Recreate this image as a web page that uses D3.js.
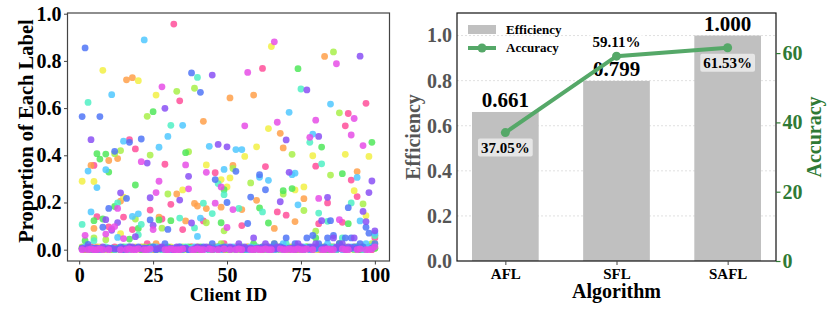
<!DOCTYPE html>
<html>
<head>
<meta charset="utf-8">
<script src="https://cdn.jsdelivr.net/npm/d3@7"></script>
<style>
  body { margin: 0; background: #fff; }
  svg text { font-family: "Liberation Serif", "Times New Roman", serif; font-weight: bold; }
</style>
</head>
<body>
<div id="chart"></div>
<script>
var FONT = "'Liberation Serif', 'Times New Roman', serif";

// ---- left panel: label proportion per client (10 labels) ----
var clients = d3.range(1, 101);
var clientTicks = [0, 25, 50, 75, 100];
var propTicks = [0, 0.2, 0.4, 0.6, 0.8, 1.0];
var labelColors = ["#ff4f9a", "#ffa04a", "#f2f044", "#a8f04a", "#50e85a", "#50f0c4", "#50c8ff", "#5075f7", "#8a50f5", "#e64ee6"];

var propRed = [.003,0,.006,.012,.357,.14,0,.006,.003,.097, 0,.012,.003,0,.138,.006,.466,.085,.427,.003,
  .006,0,.025,.168,0,.003,.012,.13,.362,0, .192,.956,.006,.631,.085,.003,0,.012,.006,.003,
  0,.122,.006,.003,0,.326,.012,0,.025,.006, 0,.003,.012,.006,.102,0,.003,.006,0,.012,
  .006,.768,.352,.003,0,.006,.16,.012,.003,.146, 0,.006,.003,0,.012,.006,.003,0,.006,.354,
  .11,.006,0,.198,.012,.003,0,.025,.116,.525, .577,.295,.006,.225,.003,.012,.62,.006,0,.05];
var propOrange = [.006,0,.003,.357,.09,.012,0,.003,.006,.378, 0,.006,.386,.206,.003,.72,0,.729,.006,.003,
  .012,0,.003,.006,0,.025,.138,.003,0,.006, .003,0,.236,.006,0,.122,.003,.012,.196,.185,
  .006,.544,.174,0,.003,.012,.006,.18,0,.003, .643,.357,.003,.006,.17,0,.012,.003,.655,.209,
  .003,0,.006,.012,0,.09,.003,.493,.431,.006, .003,.012,.119,0,.006,.216,.003,.006,0,.012,
  0,.003,.819,.006,.003,.012,0,.006,.003,0, .006,.003,.012,.331,0,.006,.003,.012,.006,.06];
var propYellow = [.29,.003,0,.006,.289,.003,.012,.76,0,.006, .003,0,.006,.068,.223,0,.003,.006,.012,.716,
  0,.003,.006,0,.012,.655,.003,0,.006,.003, .012,0,.003,.006,.253,0,.006,.003,0,.012,
  .003,.006,.359,0,.003,.012,0,.297,.006,.266, .304,.003,0,.006,.003,.395,.012,0,.006,.436,
  0,.006,.003,.513,.861,0,.012,.003,.006,0, .006,.003,.253,.012,0,.266,.006,.003,.398,0,
  .003,.012,0,.006,.003,0,.006,.012,.003,.404, 0,.006,.25,.003,.012,0,.144,.395,.006,.025];
var propLime = [.012,.003,0,.006,.05,.003,0,.006,.042,.003, 0,.407,.006,.42,.003,0,.012,.003,.13,.006,
  .003,.012,.565,.401,.006,0,.003,.091,.006,.236, 0,.006,.671,.003,.012,.006,.415,0,.684,.003,
  .006,.003,.114,.012,0,.006,.003,.025,.08,0, .006,.344,.003,0,.012,.006,.003,.283,0,.006,
  .003,.012,0,.006,.003,.025,.006,0,.236,.003, .012,.404,.006,.003,0,.166,.012,.003,.006,.078,
  .006,0,.012,.003,.316,.838,.006,.58,.003,.012, .003,.006,0,.012,.003,.194,.006,.003,.025,.006];
var propGreen = [.006,.038,.003,0,.123,.407,.384,.13,.405,.329, .003,.183,.006,0,.012,.003,.045,.006,.274,.09,
  0,.006,.003,.012,.585,.003,.126,.006,0,.012, .123,.003,.006,0,.003,.411,.012,.006,.003,0,
  .012,.003,.006,.003,0,.006,.012,.114,.254,.003, 0,.006,.003,.012,.006,0,.003,.006,.025,.003,
  .177,.003,.012,.113,0,.006,.003,.012,.25,.006, .003,.259,0,.767,.006,.003,.012,.006,.003,.05,
  .006,.435,.003,0,.012,.006,.003,.025,.322,.003, .11,.006,.003,.012,0,.006,.003,.012,.455,.006];
var propTeal = [.107,.006,.624,.003,.038,0,.006,.003,.012,.003, .006,0,.198,.003,.006,.012,0,.003,.006,.063,
  .107,.003,0,.006,.012,.003,.006,0,.003,.006, .527,.003,.006,.134,0,.012,.003,.006,.092,.73,
  .003,.197,.006,0,.153,.003,.28,.006,.233,.012, .003,.006,0,.175,.012,.003,.006,0,.003,.012,
  .006,.16,.003,0,.006,.012,.003,.006,0,.025, .003,.006,.012,.003,.681,0,.006,.455,.003,.006,
  .155,.364,.006,.12,.003,.012,0,.006,.05,.003, .006,.198,.003,.012,.006,0,.003,.006,.012,.06];
var propCyan = [.003,.012,.333,.16,.006,.263,0,.003,.339,.006, .657,.003,.052,.006,.46,0,.012,.141,.003,.152,
  .006,.889,.003,0,.006,.012,.434,.003,.006,.48, 0,.006,.003,.012,.527,.006,0,.003,.012,.056,
  .134,.006,.003,.438,.006,.003,.012,0,.34,.006, .003,.012,.424,.006,.424,.003,0,.012,.006,.003,
  .307,.006,.003,.294,.012,0,.006,.003,.025,.006, .582,.318,.324,.19,.003,.012,.006,0,.49,.003,
  .012,.006,.003,.025,.617,.006,.003,.012,0,.006, .003,.012,.006,.306,.122,.003,.025,.006,.012,.07];
var propBlue = [.564,.855,.022,.003,.006,0,.564,.095,.003,.175, .006,.417,.003,.012,0,.217,.455,.006,.003,.012,
  .469,.003,.006,.126,.012,0,.003,.006,.025,.086, .003,0,.006,.012,.003,.006,0,.749,.003,.006,
  .667,.012,.003,.006,.025,.297,.003,.006,.012,.2, .006,.003,.332,.012,0,.006,.111,.223,.003,.006,
  .318,.012,.254,.003,.006,.025,.003,.012,.006,.05, .006,.003,.025,.012,.006,.003,.05,.012,.06,.006,
  .025,.006,.012,.05,.123,.06,.006,.025,.012,.05, .178,.05,.012,.006,.025,.012,.095,.07,.006,.025];
var propPurple = [.006,.003,.012,.466,0,.006,.003,.012,.127,.006, .082,.003,.115,.241,.006,.003,.012,.012,.055,.006,
  .003,.006,.367,.22,.103,.003,.006,.012,.599,.003, .006,0,.012,.21,.003,.006,.311,.113,.003,.012,
  .006,.003,.012,.006,.74,.003,.446,.006,.003,.436, .012,.006,.003,.025,.006,.012,.003,.006,.05,.003,
  .006,.003,.025,.012,.006,.003,.012,.203,.006,.465, .328,.006,.003,.025,.012,.006,.677,.003,.012,.025,
  .48,.123,.006,.222,.003,.05,.012,.006,.025,.003, .012,.006,.05,.003,.82,.162,.119,.242,.291,.08];
var propMagenta = [0,.061,0,.003,0,0,.003,0,.066,0, .088,.098,.175,0,.047,0,.003,0,0,.003,
  .373,0,0,.003,.085,.242,.29,.69,0,0, .003,0,0,0,.003,.359,.258,0,0,.003,
  0,0,.328,.003,0,.197,0,.266,.003,.094, 0,.17,0,.003,0,.525,.751,0,0,.003,
  0,0,.003,0,0,.881,.54,.003,0,0, .003,0,0,.003,0,0,.003,.476,0,.549,
  .217,0,0,.003,0,0,.788,.127,.003,0, 0,.486,.556,0,.003,.441,0,0,.003,.012];
var labelSeries = [propRed, propOrange, propYellow, propLime, propGreen, propTeal, propCyan, propBlue, propPurple, propMagenta];

// ---- right panel: efficiency bars + accuracy line ----
var algorithms = ["AFL", "SFL", "SAFL"];
var efficiency = [0.661, 0.799, 1.000];
var accuracy = [37.05, 59.11, 61.53];
var effTicks = [0, 0.2, 0.4, 0.6, 0.8, 1.0];
var accTicks = [0, 20, 40, 60];

var W = 830, H = 312;
var svg = d3.select("#chart").append("svg").attr("width", W).attr("height", H);

function styleAxis(g, size, color) {
  g.attr("font-family", null).attr("font-size", null);
  g.selectAll("text")
    .style("font-family", FONT).style("font-weight", "bold")
    .style("font-size", size).attr("fill", color);
  g.select(".domain").remove();
}

// ================= left =================
var L = {x0: 67.5, x1: 389.5, y0: 13, y1: 261};
var x1 = d3.scaleLinear().domain([-3.95, 104.95]).range([L.x0, L.x1]);
var y1 = d3.scaleLinear().domain([-0.048, 1.003]).range([L.y1, L.y0]);

var left = svg.append("g");
labelSeries.forEach(function(series, i) {
  left.append("g").selectAll("circle")
    .data(series)
    .enter()
    .append("circle")
    .attr("cx", function(d, j) { return x1(clients[j]); })
    .attr("cy", function(d) { return y1(d); })
    .attr("r", 3.4)
    .attr("fill", labelColors[i])
    .attr("fill-opacity", 0.85);
});

left.append("rect")
  .attr("x", L.x0).attr("y", L.y0)
  .attr("width", L.x1 - L.x0).attr("height", L.y1 - L.y0)
  .attr("fill", "none").attr("stroke", "#444").attr("stroke-width", 1.2);

left.append("g").attr("transform", "translate(" + L.x0 + ",0)")
  .call(d3.axisLeft(y1).tickValues(propTicks).tickFormat(d3.format(".1f")).tickSize(3.5).tickPadding(2.5))
  .call(styleAxis, "20px", "#000")
  .selectAll("line").attr("stroke", "#444");

left.append("g").attr("transform", "translate(0," + L.y1 + ")")
  .call(d3.axisBottom(x1).tickValues(clientTicks).tickSize(3.5).tickPadding(3))
  .call(styleAxis, "20px", "#000")
  .selectAll("line").attr("stroke", "#444");

left.append("text")
  .attr("x", (L.x0 + L.x1) / 2).attr("y", 301)
  .attr("text-anchor", "middle").attr("font-size", "19.5px")
  .text("Client ID");

left.append("text")
  .attr("transform", "translate(33," + ((L.y0 + L.y1) / 2 - 6) + ") rotate(-90)")
  .attr("text-anchor", "middle").attr("font-size", "20.5px")
  .text("Proportion of Each Label");

// ================= right =================
var R = {x0: 457, x1: 776, y0: 13, y1: 261};
var x2 = d3.scaleLinear().domain([-0.435, 2.435]).range([R.x0, R.x1]);
var yEff = d3.scaleLinear().domain([0, 1.1]).range([R.y1, R.y0]);
var yAcc = d3.scaleLinear().domain([0, 71.57]).range([R.y1, R.y0]);
var barW = x2(0.6) - x2(0);
var accGreen = "#55a868";
var axisGreen = "#2f7a35";

var right = svg.append("g");

right.append("g").selectAll("line")
  .data(effTicks.slice(1))
  .enter()
  .append("line")
  .attr("x1", R.x0).attr("x2", R.x1)
  .attr("y1", function(d) { return yEff(d); })
  .attr("y2", function(d) { return yEff(d); })
  .attr("stroke", "#d8d8d8").attr("stroke-width", 0.8).attr("stroke-dasharray", "2,2");

right.append("g").selectAll("rect")
  .data(efficiency)
  .enter()
  .append("rect")
  .attr("x", function(d, i) { return x2(i) - barW / 2; })
  .attr("y", function(d) { return yEff(d); })
  .attr("width", barW)
  .attr("height", function(d) { return R.y1 - yEff(d); })
  .attr("fill", "#c0c0c0");

right.append("g").selectAll("text")
  .data(efficiency)
  .enter()
  .append("text")
  .attr("x", function(d, i) { return x2(i); })
  .attr("y", function(d) { return yEff(d) - 5; })
  .attr("text-anchor", "middle").attr("font-size", "21px")
  .text(function(d) { return d3.format(".3f")(d); });

var accLine = d3.line()
  .x(function(d, i) { return x2(i); })
  .y(function(d) { return yAcc(d); });

right.append("path")
  .datum(accuracy)
  .attr("d", accLine)
  .attr("fill", "none").attr("stroke", accGreen).attr("stroke-width", 4);

right.append("g").selectAll("circle")
  .data(accuracy)
  .enter()
  .append("circle")
  .attr("cx", function(d, i) { return x2(i); })
  .attr("cy", function(d) { return yAcc(d); })
  .attr("r", 4.5)
  .attr("fill", accGreen);

// accuracy annotations: first and last below the point, middle above
var accOffsets = [20, -9, 20];
accuracy.forEach(function(d, i) {
  var g = right.append("g");
  var t = g.append("text")
    .attr("x", x2(i)).attr("y", yAcc(d) + accOffsets[i])
    .attr("text-anchor", "middle").attr("font-size", "15px")
    .text(d3.format(".2f")(d) + "%");
  var bb = t.node().getBBox();
  g.insert("rect", "text")
    .attr("x", bb.x - 3).attr("y", bb.y - 1)
    .attr("width", bb.width + 6).attr("height", bb.height + 2)
    .attr("rx", 2)
    .attr("fill", "#fff").attr("fill-opacity", 0.6);
});

right.append("rect")
  .attr("x", R.x0).attr("y", R.y0)
  .attr("width", R.x1 - R.x0).attr("height", R.y1 - R.y0)
  .attr("fill", "none").attr("stroke", "#111").attr("stroke-width", 1.2);

right.append("g").attr("transform", "translate(" + R.x0 + ",0)")
  .call(d3.axisLeft(yEff).tickValues(effTicks).tickFormat(d3.format(".1f")).tickSize(0).tickPadding(5))
  .call(styleAxis, "20px", "#555");

right.append("g").attr("transform", "translate(0," + R.y1 + ")")
  .call(d3.axisBottom(x2).tickValues([0, 1, 2]).tickFormat(function(d) { return algorithms[d]; }).tickSize(4).tickPadding(3))
  .call(styleAxis, "15px", "#000")
  .selectAll("line").attr("stroke", "#444");

right.append("g").attr("transform", "translate(" + R.x1 + ",0)")
  .call(d3.axisRight(yAcc).tickValues(accTicks).tickSize(4.5).tickPadding(2))
  .call(styleAxis, "20px", axisGreen)
  .selectAll("line").attr("stroke", axisGreen).attr("stroke-width", 1.2);

right.append("text")
  .attr("x", (R.x0 + R.x1) / 2).attr("y", 298)
  .attr("text-anchor", "middle").attr("font-size", "20px")
  .text("Algorithm");

right.append("text")
  .attr("transform", "translate(420," + ((R.y0 + R.y1) / 2) + ") rotate(-90)")
  .attr("text-anchor", "middle").attr("font-size", "20px").attr("fill", "#555")
  .text("Efficiency");

right.append("text")
  .attr("transform", "translate(821," + ((R.y0 + R.y1) / 2) + ") rotate(-90)")
  .attr("text-anchor", "middle").attr("font-size", "20px").attr("fill", axisGreen)
  .text("Accuracy");

// legend
var leg = right.append("g");
leg.append("rect").attr("x", 468).attr("y", 25).attr("width", 28).attr("height", 9).attr("fill", "#c0c0c0");
leg.append("text").attr("x", 506).attr("y", 34).attr("font-size", "13px").text("Efficiency");
leg.append("line").attr("x1", 468).attr("x2", 496).attr("y1", 48).attr("y2", 48)
  .attr("stroke", accGreen).attr("stroke-width", 4);
leg.append("circle").attr("cx", 482).attr("cy", 48).attr("r", 4.5).attr("fill", accGreen);
leg.append("text").attr("x", 506).attr("y", 52).attr("font-size", "13px").text("Accuracy");
</script>
</body>
</html>
